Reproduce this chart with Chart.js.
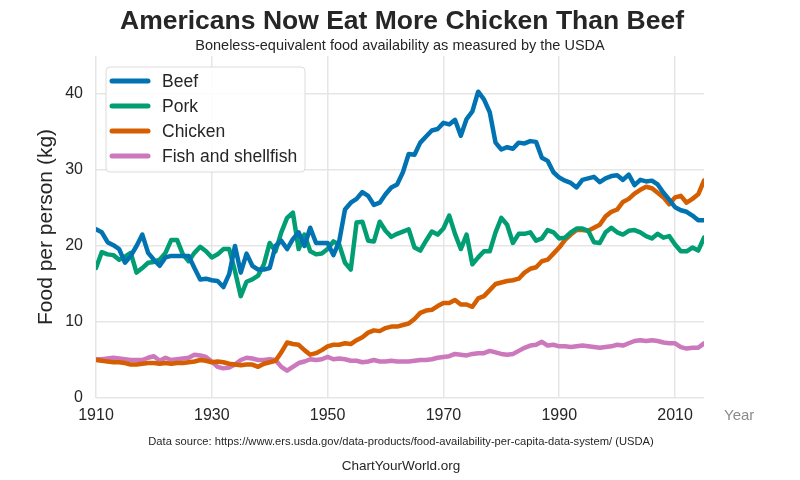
<!DOCTYPE html>
<html>
<head>
<meta charset="utf-8">
<title>Americans Now Eat More Chicken Than Beef</title>
<script src="https://cdn.jsdelivr.net/npm/chart.js@4"></script>
<style>
    html, body { margin: 0; padding: 0; background: #ffffff; }
    #wrap { position: relative; width: 800px; height: 480px; }
</style>
</head>
<body>
<div id="wrap"><canvas id="foodChart" width="800" height="480"></canvas></div>
<script>
// Kg per person per year (1910 - 2015)
const firstYear = 1910;
const lastYear = 2015;

const beef = [
    22.2, 21.8, 20.5, 20.1, 19.6, 17.8, 18.7, 20.0, 21.5, 19.1,
    18.2, 17.4, 18.5, 18.7, 18.7, 18.7, 18.7, 17.1, 15.6, 15.7,
    15.5, 15.4, 14.6, 16.3, 20.0, 16.5, 19.0, 17.4, 16.9, 16.9,
    17.1, 20.0, 20.7, 19.6, 20.9, 21.8, 20.0, 22.4, 20.4, 20.4,
    20.4, 18.8, 20.6, 24.8, 25.7, 26.2, 27.1, 26.6, 25.4, 25.7,
    26.8, 27.7, 28.1, 29.7, 32.1, 32.0, 33.6, 34.4, 35.2, 35.4,
    36.2, 36.0, 36.6, 34.5, 36.7, 37.7, 40.3, 39.3, 37.6, 33.6,
    32.7, 33.0, 32.8, 33.6, 33.5, 33.8, 33.7, 31.6, 31.2, 29.7,
    29.0, 28.6, 28.3, 27.7, 28.7, 28.9, 29.1, 28.4, 28.9, 29.2,
    29.3, 28.7, 29.4, 28.0, 28.7, 28.5, 28.6, 28.1, 27.0, 26.1,
    25.1, 24.7, 24.5, 24.0, 23.4, 23.4
];

const pork = [
    17.1, 19.2, 18.9, 18.8, 18.2, 18.6, 19.1, 16.5, 17.1, 17.8,
    17.9, 18.2, 19.1, 20.8, 20.8, 18.9, 18.0, 19.1, 19.9, 19.3,
    18.5, 18.9, 19.6, 19.6, 16.7, 13.4, 15.3, 15.6, 16.1, 17.6,
    20.4, 19.3, 21.8, 23.7, 24.4, 19.6, 21.5, 19.3, 18.9, 19.0,
    19.6, 20.6, 20.2, 17.8, 16.9, 23.1, 23.2, 20.7, 20.6, 23.2,
    22.0, 21.2, 21.6, 21.9, 22.2, 19.8, 19.4, 20.7, 21.9, 21.5,
    22.3, 24.0, 21.6, 19.6, 21.5, 17.6, 18.5, 19.3, 19.3, 21.8,
    23.7, 22.8, 20.4, 21.6, 21.6, 21.8, 20.7, 21.0, 22.1, 21.8,
    21.0, 21.1, 21.8, 22.3, 22.3, 22.0, 20.5, 20.4, 21.8, 22.4,
    21.8, 21.5, 22.0, 22.1, 21.8, 21.3, 21.0, 21.6, 21.1, 21.3,
    20.2, 19.3, 19.3, 19.8, 19.4, 21.1
];

const chicken = [
    5.0, 4.9, 4.8, 4.7, 4.7, 4.6, 4.4, 4.4, 4.5, 4.6,
    4.6, 4.5, 4.6, 4.5, 4.6, 4.6, 4.7, 4.8, 5.0, 4.9,
    4.7, 4.8, 4.7, 4.5, 4.4, 4.3, 4.4, 4.4, 4.1, 4.5,
    4.7, 4.9, 6.0, 7.3, 7.1, 7.0, 6.3, 5.7, 5.9, 6.3,
    6.8, 7.0, 7.0, 7.2, 7.1, 7.6, 8.0, 8.6, 8.9, 8.8,
    9.2, 9.4, 9.4, 9.6, 9.8, 10.4, 11.2, 11.5, 11.6, 12.1,
    12.5, 12.5, 12.9, 12.3, 12.3, 12.0, 13.1, 13.4, 14.2, 15.0,
    15.2, 15.4, 15.5, 15.7, 16.5, 17.0, 17.2, 18.0, 18.2, 19.0,
    19.8, 20.8, 21.5, 22.1, 22.1, 22.0, 22.4, 22.8, 23.9, 24.5,
    24.8, 25.8, 26.2, 26.9, 27.4, 27.8, 27.6, 27.0, 26.4, 25.5,
    26.4, 26.6, 25.7, 26.2, 26.8, 28.6
];

const fish = [
    5.1, 5.1, 5.2, 5.3, 5.2, 5.1, 5.0, 5.0, 5.0, 5.3,
    5.5, 4.9, 5.3, 5.0, 5.1, 5.2, 5.3, 5.7, 5.6, 5.4,
    4.8, 4.1, 3.9, 4.0, 4.4, 5.0, 5.3, 5.2, 5.0, 5.0,
    5.1, 5.0, 4.1, 3.6, 4.1, 4.6, 4.8, 5.1, 5.0, 5.1,
    5.4, 5.1, 5.2, 5.1, 4.9, 4.9, 4.7, 4.8, 5.0, 4.8,
    4.8, 4.9, 4.8, 4.8, 4.8, 4.9, 5.0, 5.0, 5.1, 5.3,
    5.4, 5.5, 5.8, 5.7, 5.6, 5.8, 5.9, 5.9, 6.2, 6.0,
    5.8, 5.7, 5.8, 6.2, 6.6, 6.9, 7.0, 7.4, 6.9, 7.0,
    6.8, 6.8, 6.7, 6.8, 6.9, 6.8, 6.7, 6.6, 6.7, 6.8,
    7.0, 6.9, 7.2, 7.5, 7.6, 7.5, 7.6, 7.5, 7.3, 7.2,
    7.2, 6.7, 6.5, 6.6, 6.6, 7.2
];

const seriesNames = ['Beef', 'Pork', 'Chicken', 'Fish and shellfish'];
const seriesColors = ['#0173b2', '#029e73', '#d55e00', '#cc78bc'];
const xTicks = [1910, 1930, 1950, 1970, 1990, 2010];
const yTicks = [0, 10, 20, 30, 40];

const titleText = 'Americans Now Eat More Chicken Than Beef';
const subtitleText = 'Boneless-equivalent food availability as measured by the USDA';
const sourceText = 'Data source: https://www.ers.usda.gov/data-products/food-availability-per-capita-data-system/ (USDA)';
const siteText = 'ChartYourWorld.org';

const FONT = '"Liberation Sans", Arial, sans-serif';
const TEXT_COLOR = '#262626';

// years for the x axis
var years = [];
for (var y = firstYear; y <= lastYear; y++) {
    years.push(y);
}

function toPoints(values) {
    return values.map(function(v, i) {
        return { x: years[i], y: v };
    });
}

var allSeries = [beef, pork, chicken, fish];
var datasets = allSeries.map(function(values, i) {
    return {
        label: seriesNames[i],
        data: toPoints(values),
        borderColor: seriesColors[i],
        backgroundColor: seriesColors[i],
        borderWidth: 4.5,
        borderCapStyle: 'round',
        borderJoinStyle: 'round',
        pointRadius: 0,
        tension: 0,
        fill: false
    };
});

// Draws titles, footer, axis title, "Year" label and the legend box
const extrasPlugin = {
    id: 'extras',
    afterDatasetsDraw(chart) {
        const ctx = chart.ctx;
        const area = chart.chartArea;
        ctx.save();

        // legend
        var boxX = 106, boxY = 67, boxW = 199, boxH = 105;
        ctx.beginPath();
        ctx.roundRect(boxX, boxY, boxW, boxH, 4);
        ctx.fillStyle = 'rgba(255,255,255,0.9)';
        ctx.fill();
        ctx.strokeStyle = '#dcdcdc';
        ctx.lineWidth = 1;
        ctx.stroke();

        ctx.font = '17.5px ' + FONT;
        ctx.textBaseline = 'middle';
        ctx.textAlign = 'left';
        chart.data.datasets.forEach(function(ds, i) {
            var rowY = 81 + i * 25;
            ctx.beginPath();
            ctx.moveTo(112, rowY);
            ctx.lineTo(148, rowY);
            ctx.strokeStyle = ds.borderColor;
            ctx.lineWidth = 5;
            ctx.lineCap = 'round';
            ctx.stroke();
            ctx.fillStyle = TEXT_COLOR;
            ctx.fillText(ds.label, 162, rowY + 1);
        });

        // title and subtitle
        ctx.textAlign = 'center';
        ctx.fillStyle = TEXT_COLOR;
        ctx.font = 'bold 26.5px ' + FONT;
        ctx.fillText(titleText, 402, 22);
        ctx.font = '14.5px ' + FONT;
        ctx.fillText(subtitleText, 400, 46);

        // footer
        ctx.font = '11.2px ' + FONT;
        ctx.fillText(sourceText, 401, 442);
        ctx.font = '13.5px ' + FONT;
        ctx.fillText(siteText, 401, 466);

        // "Year" next to the x axis
        ctx.textAlign = 'left';
        ctx.fillStyle = '#8a8a8a';
        ctx.font = '15px ' + FONT;
        ctx.fillText('Year', 724, 416);

        // y axis title
        ctx.translate(46, (area.top + area.bottom) / 2);
        ctx.rotate(-Math.PI / 2);
        ctx.textAlign = 'center';
        ctx.fillStyle = TEXT_COLOR;
        ctx.font = '21px ' + FONT;
        ctx.fillText('Food per person (kg)', 0, 0);

        ctx.restore();
    }
};

var ctx = document.getElementById('foodChart').getContext('2d');
var foodChart = new Chart(ctx, {
    type: 'line',
    data: { datasets: datasets },
    options: {
        responsive: false,
        animation: false,
        layout: {
            padding: { left: 0, right: 96, top: 56, bottom: 52 }
        },
        plugins: {
            legend: { display: false },
            title: { display: false },
            tooltip: { enabled: false }
        },
        scales: {
            x: {
                type: 'linear',
                min: firstYear,
                max: lastYear,
                afterBuildTicks: function(scale) {
                    scale.ticks = xTicks.map(function(v) { return { value: v }; });
                },
                afterFit: function(scale) { scale.height = 30; },
                grid: { color: '#e6e6e6', lineWidth: 1.5, drawTicks: false },
                border: { display: false },
                ticks: {
                    color: TEXT_COLOR,
                    padding: 8,
                    maxRotation: 0,
                    font: { family: FONT, size: 16 },
                    callback: function(v) { return String(v); }
                }
            },
            y: {
                min: 0,
                max: 45,
                afterBuildTicks: function(scale) {
                    scale.ticks = yTicks.map(function(v) { return { value: v }; });
                },
                afterFit: function(scale) { scale.width = 96; },
                grid: { color: '#e6e6e6', lineWidth: 1.5, drawTicks: false },
                border: { display: false },
                ticks: {
                    color: TEXT_COLOR,
                    padding: 13,
                    font: { family: FONT, size: 16 }
                }
            }
        }
    },
    plugins: [extrasPlugin]
});
</script>
</body>
</html>
